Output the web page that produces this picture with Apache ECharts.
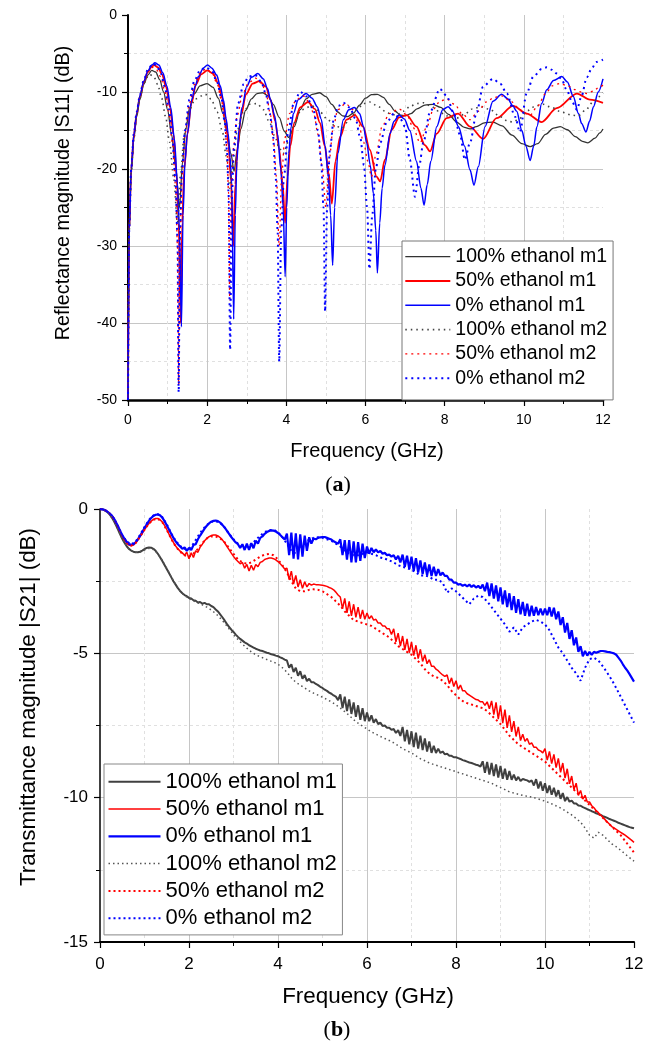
<!DOCTYPE html>
<html><head><meta charset="utf-8">
<script src="https://cdn.jsdelivr.net/npm/echarts@6/dist/echarts.min.js"></script>
<style>html,body{margin:0;padding:0;background:#fff}#c{width:646px;height:1045px}</style>
</head><body><div id="c"></div>
<script>
const FONT = '"Liberation Sans", Arial, Helvetica, sans-serif';
const SERIF = '"Liberation Serif", "DejaVu Serif", serif';
const seriesNames = ['100% ethanol m1','50% ethanol m1','0% ethanol m1','100% ethanol m2','50% ethanol m2','0% ethanol m2'];
const xTicks = {min:0, max:12, interval:2};
const s11Ticks = {min:-50, max:0, interval:10};
const s21Ticks = {min:-15, max:0, interval:5};

// ---- (a) |S11| in dB, [GHz, dB] points ----
const s11_100_m1 = [[0,-50],[0.03,-28],[0.08,-20.5],[0.15,-16],[0.22,-13.2],[0.3,-11],[0.4,-9],[0.5,-7.8],[0.6,-7.2],[0.7,-7.4],[0.8,-8.4],[0.9,-10],[1.0,-12.3],[1.1,-15.5],[1.2,-19.5],[1.3,-25],[1.38,-19],[1.46,-14.8],[1.56,-12],[1.68,-10.2],[1.82,-9.2],[2.0,-8.9],[2.15,-9.4],[2.28,-10.8],[2.4,-12.8],[2.5,-15.2],[2.6,-18],[2.68,-20.3],[2.76,-17.5],[2.85,-14.8],[2.97,-12.4],[3.12,-10.9],[3.26,-10.2],[3.4,-10.1],[3.54,-10.5],[3.67,-11.6],[3.82,-13.3],[3.95,-15.1],[4.06,-15.9],[4.2,-14.5],[4.35,-12.3],[4.5,-10.9],[4.65,-10.3],[4.84,-10.1],[5.0,-10.6],[5.15,-11.6],[5.3,-12.6],[5.42,-13.1],[5.55,-13.2],[5.7,-12.7],[5.85,-11.7],[6.0,-10.8],[6.15,-10.35],[6.3,-10.3],[6.45,-10.7],[6.6,-11.6],[6.75,-12.5],[6.88,-13.0],[7.0,-13.1],[7.15,-12.8],[7.3,-12.2],[7.5,-11.7],[7.7,-11.6],[7.9,-12.0],[8.1,-12.9],[8.3,-13.9],[8.5,-14.6],[8.64,-14.8],[8.8,-14.5],[9.0,-14.0],[9.22,-13.9],[9.45,-14.4],[9.7,-15.6],[9.95,-16.7],[10.16,-17.1],[10.35,-16.7],[10.55,-15.5],[10.75,-14.7],[10.92,-14.5],[11.1,-14.9],[11.3,-15.8],[11.48,-16.4],[11.62,-16.6],[11.8,-16.0],[11.92,-15.3],[12,-14.8]];
const s11_50_m1 = [[0,-50],[0.03,-28],[0.08,-20],[0.15,-15.5],[0.22,-12.8],[0.3,-10.6],[0.4,-8.7],[0.5,-7.4],[0.6,-6.7],[0.66,-6.5],[0.76,-6.8],[0.86,-7.7],[0.96,-9.3],[1.06,-12],[1.15,-15.5],[1.23,-21],[1.28,-27],[1.33,-40],[1.37,-27],[1.42,-20],[1.5,-15.5],[1.6,-11.5],[1.72,-9],[1.85,-7.7],[2.0,-7.2],[2.15,-7.6],[2.28,-8.9],[2.38,-10.8],[2.47,-13.5],[2.54,-17],[2.6,-21.5],[2.66,-30],[2.71,-22],[2.77,-17],[2.86,-13],[2.98,-10.3],[3.15,-8.9],[3.32,-8.6],[3.48,-9.3],[3.6,-11],[3.72,-13.8],[3.82,-17.5],[3.9,-21.5],[3.97,-27],[4.03,-21],[4.1,-17],[4.2,-14],[4.35,-12],[4.55,-11.3],[4.72,-12.2],[4.85,-14],[4.97,-17],[5.07,-20.5],[5.15,-24.5],[5.24,-19],[5.36,-15.8],[5.52,-13.6],[5.73,-13.0],[5.94,-14.5],[6.11,-17.5],[6.28,-21],[6.37,-21.6],[6.49,-18.8],[6.66,-14.9],[6.85,-13.3],[7.04,-13.0],[7.29,-14.5],[7.5,-16.9],[7.63,-17.7],[7.8,-15.4],[8.05,-13.4],[8.34,-12.8],[8.64,-14.5],[8.97,-16.1],[9.31,-13.4],[9.73,-11.8],[10.07,-12.8],[10.45,-13.9],[10.83,-12.1],[11.34,-10.2],[11.67,-11.0],[12,-11.4]];
const s11_0_m1 = [[0,-50],[0.03,-28],[0.08,-20],[0.15,-15.5],[0.22,-12.8],[0.3,-10.5],[0.4,-8.6],[0.5,-7.3],[0.6,-6.5],[0.68,-6.2],[0.78,-6.5],[0.88,-7.5],[0.98,-9.2],[1.08,-12],[1.17,-16],[1.25,-22],[1.3,-28],[1.35,-40.5],[1.39,-26],[1.44,-19],[1.5,-15.4],[1.61,-11],[1.7,-9.2],[1.78,-8.0],[1.9,-6.9],[2.01,-6.5],[2.12,-6.9],[2.24,-7.8],[2.33,-9.2],[2.41,-11],[2.48,-13.5],[2.53,-15.4],[2.58,-18.5],[2.62,-22],[2.67,-39.5],[2.71,-26],[2.75,-19],[2.8,-15],[2.88,-12],[3.0,-9.3],[3.12,-8.1],[3.28,-7.6],[3.42,-8.3],[3.52,-9.5],[3.6,-11],[3.7,-13],[3.78,-15.5],[3.86,-20],[3.92,-25],[3.97,-34],[4.01,-25],[4.06,-18],[4.12,-14.5],[4.18,-12.8],[4.3,-11],[4.5,-10.2],[4.65,-10.8],[4.78,-11.9],[4.88,-13.5],[4.98,-17],[5.06,-21],[5.12,-26],[5.17,-32.5],[5.22,-25],[5.3,-18],[5.44,-13.6],[5.58,-12.3],[5.72,-12.0],[5.85,-12.8],[5.95,-14.5],[6.03,-16.6],[6.12,-19.5],[6.2,-23.2],[6.26,-28],[6.3,-33.5],[6.36,-27],[6.42,-22.5],[6.49,-19.5],[6.62,-15.4],[6.72,-13.8],[6.85,-13.0],[6.98,-13.5],[7.12,-15],[7.29,-19],[7.4,-22.5],[7.48,-24.7],[7.56,-22],[7.65,-19],[7.8,-14.5],[7.95,-12.3],[8.09,-11.9],[8.2,-12.5],[8.35,-14.5],[8.5,-17],[8.64,-20.1],[8.74,-22.1],[8.85,-19.7],[9.02,-14.5],[9.22,-11.2],[9.44,-10.3],[9.6,-10.9],[9.72,-11.8],[9.82,-12.5],[9.95,-15],[10.05,-17],[10.16,-18.9],[10.25,-17],[10.33,-14.5],[10.45,-11.5],[10.58,-9.7],[10.75,-8.5],[10.96,-8.0],[11.1,-8.7],[11.25,-10.6],[11.38,-12.8],[11.46,-14.1],[11.57,-15.2],[11.66,-13.8],[11.76,-11.9],[11.88,-10],[12,-8.3]];
const s11_100_m2 = [[0,-50],[0.03,-28],[0.08,-20.5],[0.15,-16],[0.22,-13],[0.3,-10.8],[0.4,-8.8],[0.54,-7.7],[0.65,-8.0],[0.75,-9.0],[0.85,-10.8],[0.95,-13.2],[1.05,-16.5],[1.15,-21],[1.25,-27],[1.33,-20.5],[1.42,-15.5],[1.55,-12.3],[1.7,-10.9],[1.95,-10.3],[2.1,-10.9],[2.25,-12.6],[2.38,-15],[2.48,-18.3],[2.57,-22.5],[2.66,-18.5],[2.76,-15],[2.9,-12.7],[3.08,-11.6],[3.26,-11.5],[3.42,-12.3],[3.58,-14],[3.72,-15.9],[3.82,-17.3],[3.92,-18],[4.05,-16.5],[4.2,-14],[4.38,-12.3],[4.65,-11.8],[4.85,-12.6],[5.05,-13.6],[5.2,-14.3],[5.4,-14.7],[5.6,-13.6],[5.8,-12.2],[5.95,-11.5],[6.11,-11.3],[6.3,-11.8],[6.5,-12.5],[6.65,-12.9],[6.79,-13.0],[6.95,-12.5],[7.15,-11.8],[7.3,-11.5],[7.46,-11.4],[7.65,-11.8],[7.85,-12.5],[8.05,-13.1],[8.3,-13.4],[8.5,-12.9],[8.7,-12.2],[8.93,-11.9],[9.15,-12.3],[9.4,-13.2],[9.6,-13.8],[9.73,-13.9],[9.9,-13.4],[10.1,-12.4],[10.3,-11.8],[10.49,-11.6],[10.7,-12.0],[10.95,-12.6],[11.2,-13.0],[11.37,-13.1],[11.55,-12.4],[11.75,-11.3],[11.9,-10.6],[12,-10.1]];
const s11_50_m2 = [[0,-50],[0.03,-28],[0.08,-20.5],[0.15,-15.8],[0.22,-13],[0.3,-10.7],[0.4,-8.7],[0.5,-7.4],[0.62,-6.8],[0.72,-7.1],[0.82,-8.0],[0.92,-9.7],[1.02,-12.5],[1.12,-16.5],[1.2,-22],[1.25,-30],[1.28,-48],[1.31,-30],[1.36,-21],[1.44,-15.5],[1.55,-11.5],[1.68,-9],[1.82,-7.6],[1.97,-7.0],[2.12,-7.5],[2.25,-8.9],[2.36,-11],[2.44,-13.8],[2.5,-17.5],[2.54,-23],[2.57,-37],[2.61,-23],[2.67,-17],[2.76,-13],[2.9,-10.2],[3.05,-8.8],[3.22,-8.2],[3.38,-8.9],[3.5,-10.5],[3.6,-13],[3.68,-16.5],[3.75,-21],[3.82,-30],[3.88,-21],[3.96,-16],[4.08,-12.8],[4.25,-11],[4.42,-10.5],[4.58,-11.3],[4.7,-13],[4.8,-15.5],[4.9,-19.5],[5.0,-25],[5.08,-19],[5.18,-14.8],[5.3,-12.3],[5.5,-11.5],[5.68,-12.3],[5.82,-14],[5.95,-16.5],[6.06,-19],[6.15,-21],[6.27,-18],[6.42,-14.5],[6.6,-12.8],[6.85,-12.2],[7.05,-13],[7.2,-14.6],[7.38,-16.6],[7.55,-14.5],[7.72,-12.2],[7.88,-11.2],[8.05,-10.9],[8.25,-11.6],[8.45,-12.9],[8.64,-13.6],[8.85,-12.5],[9.05,-11.3],[9.25,-10.7],[9.44,-10.5],[9.65,-11.1],[9.85,-12.0],[10.0,-12.7],[10.16,-13.0],[10.35,-11.8],[10.55,-10.2],[10.72,-9.2],[10.91,-8.9],[11.1,-9.2],[11.3,-9.7],[11.45,-10.0],[11.59,-10.2],[11.75,-9.9],[11.9,-9.4],[12,-9.1]];
const s11_0_m2 = [[0,-50],[0.03,-28],[0.08,-20],[0.15,-15.3],[0.22,-12.6],[0.3,-10.4],[0.4,-8.4],[0.5,-7.1],[0.63,-6.3],[0.73,-6.6],[0.83,-7.6],[0.93,-9.3],[1.03,-12.2],[1.12,-16],[1.2,-21.5],[1.25,-29],[1.28,-49],[1.31,-29],[1.36,-20.5],[1.44,-15],[1.55,-11],[1.68,-8.5],[1.82,-7.2],[1.97,-6.8],[2.12,-7.3],[2.25,-8.7],[2.36,-10.8],[2.44,-13.8],[2.5,-17.5],[2.54,-23],[2.58,-43.5],[2.62,-24],[2.68,-17],[2.78,-11.5],[2.92,-9],[3.05,-8],[3.21,-7.8],[3.36,-8.6],[3.48,-10.2],[3.58,-12.8],[3.66,-15.5],[3.73,-21],[3.78,-28],[3.82,-45],[3.87,-28],[3.94,-21],[4.05,-15],[4.18,-11.6],[4.35,-10.0],[4.52,-10.6],[4.68,-12.3],[4.8,-15],[4.88,-19],[4.94,-25],[4.98,-38.5],[5.03,-25],[5.1,-17.5],[5.2,-13.5],[5.32,-11.8],[5.44,-11.4],[5.6,-12],[5.75,-13.5],[5.87,-16],[5.96,-19.5],[6.04,-25],[6.1,-33],[6.17,-26],[6.26,-20],[6.37,-16.6],[6.54,-13.9],[6.72,-12.8],[6.88,-13.5],[7.0,-14.5],[7.12,-18.8],[7.25,-23.6],[7.36,-19.5],[7.46,-16.6],[7.63,-12.6],[7.88,-9.6],[8.05,-10.5],[8.22,-12.6],[8.39,-15.6],[8.51,-18.8],[8.64,-16.6],[8.81,-12.6],[8.97,-9.3],[9.22,-8.3],[9.4,-8.9],[9.57,-10.2],[9.78,-13.2],[9.9,-15.2],[10.07,-10.2],[10.24,-8],[10.45,-7],[10.58,-6.8],[10.7,-7.1],[10.83,-7.6],[10.95,-8.3],[11.08,-9.7],[11.22,-11.3],[11.34,-12.3],[11.46,-10.5],[11.59,-8.1],[11.72,-6.9],[11.83,-6.1],[12,-5.8]];

// ---- (b) |S21| in dB, m1 sampled every 0.05 GHz, m2 every 0.1 GHz (from 0 to 12) ----
const s21StepM1 = 0.05, s21StepM2 = 0.1;
const s21_100_m1 = [0,-0.01,-0.04,-0.09,-0.16,-0.26,-0.38,-0.53,-0.7,-0.87,
-1.03,-1.17,-1.29,-1.38,-1.44,-1.48,-1.5,-1.5,-1.48,-1.44,
-1.39,-1.35,-1.33,-1.34,-1.38,-1.45,-1.55,-1.67,-1.8,-1.94,
-2.08,-2.22,-2.36,-2.5,-2.62,-2.74,-2.84,-2.92,-2.98,-3.02,
-3.08,-3.1,-3.16,-3.18,-3.24,-3.22,-3.28,-3.25,-3.3,-3.3,
-3.36,-3.4,-3.48,-3.55,-3.65,-3.75,-3.86,-3.98,-4.08,-4.18,
-4.26,-4.35,-4.43,-4.5,-4.56,-4.62,-4.66,-4.72,-4.76,-4.8,
-4.84,-4.87,-4.9,-4.92,-4.95,-4.98,-5.0,-5.03,-5.05,-5.08,
-5.1,-5.14,-5.17,-5.22,-5.25,-5.5,-5.38,-5.65,-5.5,-5.78,
-5.62,-5.88,-5.75,-5.96,-5.88,-6.0,-6.0,-6.06,-6.1,-6.16,
-6.2,-6.26,-6.3,-6.36,-6.4,-6.46,-6.5,-6.62,-6.42,-6.9,
-6.5,-7.0,-6.6,-7.1,-6.7,-7.2,-6.8,-7.3,-6.9,-7.35,
-7.05,-7.35,-7.15,-7.4,-7.28,-7.45,-7.4,-7.52,-7.5,-7.58,
-7.58,-7.65,-7.62,-7.76,-7.66,-7.86,-7.55,-8.05,-7.65,-8.15,
-7.7,-8.25,-7.75,-8.3,-7.85,-8.35,-7.95,-8.4,-8.05,-8.45,
-8.2,-8.45,-8.3,-8.45,-8.4,-8.5,-8.48,-8.55,-8.55,-8.6,
-8.6,-8.63,-8.66,-8.7,-8.72,-8.75,-8.78,-8.8,-8.83,-8.86,
-8.88,-8.92,-8.74,-9.14,-8.76,-9.2,-8.8,-9.25,-8.85,-9.3,
-8.9,-9.35,-9.0,-9.38,-9.08,-9.38,-9.2,-9.4,-9.28,-9.42,
-9.35,-9.38,-9.4,-9.45,-9.4,-9.58,-9.36,-9.68,-9.44,-9.76,
-9.5,-9.84,-9.58,-9.9,-9.66,-9.96,-9.74,-10.04,-9.84,-10.12,
-9.98,-10.14,-10.1,-10.2,-10.2,-10.27,-10.28,-10.33,-10.36,-10.4,
-10.43,-10.47,-10.5,-10.54,-10.57,-10.6,-10.64,-10.67,-10.7,-10.74,
-10.77,-10.8,-10.83,-10.87,-10.9,-10.93,-10.96,-10.99,-11.02,-11.04,
-11.06];
const s21_50_m1 = [0,-0.01,-0.03,-0.07,-0.13,-0.2,-0.31,-0.45,-0.6,-0.77,
-0.93,-1.07,-1.18,-1.25,-1.27,-1.25,-1.18,-1.08,-0.96,-0.84,
-0.72,-0.6,-0.5,-0.42,-0.36,-0.33,-0.33,-0.37,-0.45,-0.57,
-0.71,-0.87,-1.02,-1.16,-1.28,-1.38,-1.46,-1.52,-1.6,-1.5,
-1.72,-1.52,-1.68,-1.45,-1.5,-1.32,-1.22,-1.1,-1.02,-0.96,
-0.92,-0.9,-0.9,-0.93,-0.99,-1.07,-1.17,-1.29,-1.41,-1.53,
-1.64,-1.74,-1.82,-1.9,-1.85,-2.05,-1.92,-2.15,-1.95,-2.12,
-1.92,-2.0,-1.85,-1.82,-1.75,-1.72,-1.7,-1.7,-1.72,-1.76,
-1.82,-1.9,-1.98,-2.08,-2.05,-2.45,-2.15,-2.6,-2.3,-2.7,
-2.45,-2.75,-2.52,-2.7,-2.58,-2.64,-2.6,-2.62,-2.62,-2.63,
-2.64,-2.66,-2.68,-2.72,-2.75,-2.8,-2.88,-2.98,-3.05,-3.45,
-3.1,-3.6,-3.2,-3.7,-3.3,-3.75,-3.4,-3.8,-3.5,-3.82,
-3.6,-3.8,-3.7,-3.85,-3.82,-3.95,-3.95,-4.05,-4.05,-4.15,
-4.15,-4.35,-4.15,-4.6,-4.3,-4.75,-4.4,-4.88,-4.5,-4.98,
-4.6,-5.08,-4.72,-5.18,-4.86,-5.28,-5.05,-5.36,-5.22,-5.45,
-5.45,-5.55,-5.6,-5.68,-5.75,-5.8,-5.75,-6.05,-5.85,-6.15,
-5.95,-6.25,-6.1,-6.3,-6.3,-6.4,-6.45,-6.5,-6.55,-6.6,
-6.62,-6.68,-6.68,-6.8,-6.68,-6.92,-6.65,-7.12,-6.7,-7.28,
-6.8,-7.42,-6.95,-7.58,-7.15,-7.72,-7.35,-7.88,-7.55,-8.02,
-7.8,-8.05,-7.95,-8.15,-8.1,-8.25,-8.25,-8.35,-8.38,-8.45,
-8.3,-8.7,-8.4,-8.82,-8.5,-8.96,-8.64,-9.12,-8.8,-9.32,
-9.0,-9.52,-9.25,-9.72,-9.5,-9.92,-9.75,-10.05,-9.92,-10.15,
-10.15,-10.28,-10.35,-10.45,-10.52,-10.6,-10.68,-10.76,-10.84,-10.92,
-11.0,-11.05,-11.1,-11.15,-11.2,-11.25,-11.3,-11.36,-11.42,-11.48,
-11.55];
const s21_0_m1 = [0,-0.01,-0.03,-0.07,-0.13,-0.2,-0.3,-0.43,-0.58,-0.75,
-0.9,-1.03,-1.14,-1.21,-1.24,-1.22,-1.15,-1.05,-0.93,-0.8,
-0.66,-0.53,-0.41,-0.31,-0.24,-0.2,-0.19,-0.22,-0.3,-0.42,
-0.56,-0.71,-0.86,-1.0,-1.12,-1.22,-1.3,-1.38,-1.33,-1.45,
-1.35,-1.42,-1.25,-1.22,-1.05,-0.92,-0.8,-0.68,-0.58,-0.5,
-0.44,-0.41,-0.4,-0.42,-0.47,-0.55,-0.64,-0.75,-0.86,-0.97,
-1.07,-1.16,-1.22,-1.35,-1.22,-1.42,-1.2,-1.42,-1.18,-1.36,
-1.1,-1.2,-1.0,-0.95,-0.86,-0.8,-0.76,-0.74,-0.75,-0.78,
-0.83,-0.9,-0.98,-1.06,-0.85,-1.6,-0.82,-1.72,-0.84,-1.75,
-0.88,-1.65,-0.92,-1.45,-0.98,-1.2,-1.02,-1.05,-1.0,-0.98,
-0.97,-0.97,-1.0,-1.03,-1.06,-1.12,-1.16,-1.2,-1.05,-1.6,
-1.08,-1.75,-1.08,-1.85,-1.12,-1.85,-1.15,-1.8,-1.2,-1.7,
-1.3,-1.55,-1.35,-1.5,-1.4,-1.5,-1.45,-1.55,-1.52,-1.6,
-1.58,-1.65,-1.6,-1.75,-1.62,-1.85,-1.58,-2.0,-1.62,-2.08,
-1.65,-2.15,-1.7,-2.2,-1.78,-2.25,-1.85,-2.3,-1.92,-2.32,
-2.0,-2.32,-2.08,-2.3,-2.2,-2.32,-2.32,-2.45,-2.45,-2.55,
-2.55,-2.62,-2.6,-2.66,-2.62,-2.68,-2.62,-2.7,-2.64,-2.72,
-2.66,-2.75,-2.62,-2.85,-2.55,-3.02,-2.58,-3.1,-2.65,-3.2,
-2.72,-3.3,-2.82,-3.4,-2.92,-3.5,-3.02,-3.6,-3.12,-3.65,
-3.22,-3.7,-3.28,-3.72,-3.35,-3.7,-3.4,-3.68,-3.45,-3.68,
-3.45,-3.68,-3.4,-3.72,-3.42,-3.82,-3.55,-4.02,-3.75,-4.28,
-3.95,-4.5,-4.2,-4.72,-4.45,-4.95,-4.75,-5.1,-4.92,-5.08,
-4.95,-5.05,-4.95,-4.98,-4.95,-4.92,-4.92,-4.93,-4.95,-4.96,
-4.98,-5.0,-5.05,-5.15,-5.25,-5.38,-5.5,-5.6,-5.72,-5.85,
-5.98];
const s21_100_m2 = [0,-0.04,-0.16,-0.38,-0.7,-1.03,-1.3,-1.45,-1.5,-1.5,
-1.42,-1.36,-1.4,-1.55,-1.78,-2.05,-2.35,-2.62,-2.85,-3.0,
-3.1,-3.18,-3.25,-3.32,-3.4,-3.5,-3.62,-3.78,-3.95,-4.15,
-4.35,-4.52,-4.68,-4.82,-4.95,-5.05,-5.12,-5.18,-5.25,-5.3,
-5.38,-5.5,-5.65,-5.85,-6.0,-6.1,-6.2,-6.3,-6.38,-6.45,
-6.52,-6.6,-6.68,-6.78,-6.9,-7.02,-7.15,-7.3,-7.42,-7.52,
-7.62,-7.72,-7.8,-7.88,-7.95,-8.02,-8.1,-8.2,-8.3,-8.38,
-8.45,-8.55,-8.65,-8.72,-8.8,-8.85,-8.9,-8.95,-9.0,-9.05,
-9.1,-9.15,-9.2,-9.25,-9.3,-9.35,-9.4,-9.45,-9.5,-9.58,
-9.65,-9.72,-9.8,-9.84,-9.88,-9.92,-9.95,-9.98,-10.02,-10.07,
-10.12,-10.18,-10.25,-10.32,-10.4,-10.5,-10.6,-10.72,-10.85,-11.05,
-11.3,-11.4,-11.2,-11.3,-11.45,-11.6,-11.7,-11.82,-11.95,-12.08,
-12.2];
const s21_50_m2 = [0,-0.03,-0.13,-0.31,-0.6,-0.93,-1.18,-1.27,-1.18,-0.96,
-0.72,-0.5,-0.37,-0.34,-0.46,-0.72,-1.03,-1.3,-1.48,-1.6,
-1.65,-1.55,-1.38,-1.18,-1.02,-0.95,-0.95,-1.02,-1.15,-1.35,
-1.55,-1.75,-1.85,-1.9,-1.85,-1.75,-1.65,-1.58,-1.56,-1.6,
-1.75,-1.95,-2.2,-2.5,-2.75,-2.85,-2.85,-2.8,-2.78,-2.8,
-2.85,-2.95,-3.05,-3.2,-3.35,-3.55,-3.7,-3.85,-3.9,-3.95,
-4.0,-4.05,-4.15,-4.25,-4.35,-4.45,-4.6,-4.75,-4.85,-4.95,
-5.05,-5.2,-5.35,-5.55,-5.7,-5.8,-5.85,-5.95,-6.1,-6.3,
-6.45,-6.6,-6.7,-6.75,-6.8,-6.85,-6.9,-7.0,-7.15,-7.3,
-7.45,-7.65,-7.85,-8.0,-8.15,-8.25,-8.35,-8.45,-8.55,-8.65,
-8.75,-8.9,-9.05,-9.2,-9.35,-9.5,-9.65,-9.8,-9.95,-10.1,
-10.25,-10.4,-10.55,-10.7,-10.85,-11.0,-11.15,-11.3,-11.5,-11.7,
-11.9];
const s21_0_m2 = [0,-0.03,-0.13,-0.3,-0.58,-0.9,-1.13,-1.22,-1.13,-0.9,
-0.62,-0.38,-0.22,-0.18,-0.28,-0.53,-0.84,-1.1,-1.28,-1.38,
-1.38,-1.2,-0.95,-0.72,-0.55,-0.45,-0.42,-0.48,-0.64,-0.86,
-1.05,-1.2,-1.3,-1.3,-1.22,-1.08,-0.92,-0.8,-0.73,-0.72,
-0.8,-0.98,-1.2,-1.45,-1.55,-1.35,-1.2,-1.05,-1.0,-0.98,
-1.0,-1.05,-1.1,-1.2,-1.3,-1.45,-1.55,-1.6,-1.6,-1.55,
-1.5,-1.55,-1.6,-1.68,-1.72,-1.78,-1.85,-1.95,-2.0,-2.05,
-2.1,-2.2,-2.3,-2.3,-2.35,-2.45,-2.45,-2.55,-2.9,-2.75,
-2.85,-3.0,-3.15,-3.3,-3.1,-3.0,-3.05,-3.2,-3.4,-3.6,
-3.8,-4.0,-4.25,-4.1,-4.35,-4.1,-4.0,-3.9,-3.84,-3.9,
-4.0,-4.2,-4.5,-4.8,-5.0,-5.25,-5.5,-5.7,-5.95,-5.5,
-5.2,-5.15,-5.25,-5.45,-5.68,-5.92,-6.2,-6.5,-6.8,-7.1,
-7.4];

function stepPairs(vals, step){ return vals.map((v,i)=>[Math.round(i*step*100)/100, v]); }

const topStyles = [
  {color:'#333333', width:1.3, type:'solid'},
  {color:'#ff0000', width:1.8, type:'solid'},
  {color:'#0000ff', width:1.5, type:'solid'},
  {color:'#444444', width:1.6, type:[1.5,4]},
  {color:'#ff0000', width:1.3, type:[2,4]},
  {color:'#0000ff', width:2.0, type:[2,4]}
];
const botStyles = [
  {color:'#404040', width:2.0, type:'solid'},
  {color:'#ff0000', width:1.5, type:'solid'},
  {color:'#0000ff', width:2.2, type:'solid'},
  {color:'#555555', width:1.5, type:[1.5,3]},
  {color:'#ff0000', width:2.0, type:[2,3]},
  {color:'#0000ff', width:2.0, type:[2,3]}
];
const topData = [s11_100_m1, s11_50_m1, s11_0_m1, s11_100_m2, s11_50_m2, s11_0_m2];
const botData = [stepPairs(s21_100_m1,s21StepM1), stepPairs(s21_50_m1,s21StepM1), stepPairs(s21_0_m1,s21StepM1),
                 stepPairs(s21_100_m2,s21StepM2), stepPairs(s21_50_m2,s21StepM2), stepPairs(s21_0_m2,s21StepM2)];

function xAx(gi, fs, margin, w){
  return {type:'value', gridIndex:gi, min:xTicks.min, max:xTicks.max, interval:xTicks.interval,
    axisLine:{show:true, onZero:false, lineStyle:{color:'#000', width:w}},
    axisTick:{show:true, length:6, lineStyle:{color:'#000', width:1.2}},
    minorTick:{show:true, splitNumber:2, length:4, lineStyle:{color:'#000', width:1}},
    axisLabel:{fontSize:fs, color:'#000', margin:margin, fontFamily:FONT},
    splitLine:{show:true, showMinLine:false, showMaxLine:false, lineStyle:{color:'#c6c6c6', width:1}},
    minorSplitLine:{show:true, lineStyle:{color:'#e0e0e0', type:[3,3], width:1}}};
}
function yAx(gi, t, fs, margin, w){
  return {type:'value', gridIndex:gi, min:t.min, max:t.max, interval:t.interval,
    axisLine:{show:true, onZero:false, lineStyle:{color:'#000', width:w}},
    axisTick:{show:true, length:6, lineStyle:{color:'#000', width:1.2}},
    minorTick:{show:true, splitNumber:2, length:4, lineStyle:{color:'#000', width:1}},
    axisLabel:{fontSize:fs, color:'#000', margin:margin, fontFamily:FONT},
    splitLine:{show:true, showMinLine:false, showMaxLine:false, lineStyle:{color:'#c6c6c6', width:1}},
    minorSplitLine:{show:true, lineStyle:{color:'#e0e0e0', type:[3,3], width:1}}};
}

const series = [];
seriesNames.forEach((n,i)=>{
  series.push({name:n, type:'line', xAxisIndex:0, yAxisIndex:0, data:topData[i], symbol:'none',
    smooth:0.3, smoothMonotone:'x', lineStyle:topStyles[i], itemStyle:{color:topStyles[i].color}, z:2+i});
});
seriesNames.forEach((n,i)=>{
  series.push({name:n, type:'line', xAxisIndex:1, yAxisIndex:1, data:botData[i], symbol:'none',
    smooth:false, lineStyle:botStyles[i], itemStyle:{color:botStyles[i].color}, z:2+i});
});

const chart = echarts.init(document.getElementById('c'), null, {renderer:'canvas'});
chart.setOption({
  animation:false,
  backgroundColor:'#fff',
  grid:[{left:128, top:15, width:475, height:385, outerBoundsMode:'none'},
        {left:100, top:509, width:534, height:433, outerBoundsMode:'none'}],
  xAxis:[xAx(0,14,13,2.6), xAx(1,17,14,2)],
  yAxis:[yAx(0,s11Ticks,14,11,2), yAx(1,s21Ticks,17,12,1.5)],
  legend:[
    {left:402, top:241, orient:'vertical', selectedMode:false, itemWidth:45, itemHeight:14, itemGap:4.3,
     padding:[5.7,6,11.7,2.3], borderColor:'#777', borderWidth:1, backgroundColor:'#fff', z:10,
     itemStyle:{opacity:0}, textStyle:{fontSize:19.5, lineHeight:20, color:'#000', fontFamily:FONT},
     data:seriesNames.map((n,i)=>({name:n, lineStyle:topStyles[i], itemStyle:{opacity:0, borderWidth:0}}))},
    {left:104, top:764, orient:'vertical', selectedMode:false, itemWidth:52, itemHeight:14, itemGap:5.3,
     padding:[6.7,5.7,5.7,3.4], borderColor:'#888', borderWidth:1, backgroundColor:'#fff', z:10,
     itemStyle:{opacity:0}, textStyle:{fontSize:22, lineHeight:22, color:'#000', fontFamily:FONT},
     data:seriesNames.map((n,i)=>({name:n, lineStyle:botStyles[i], itemStyle:{opacity:0, borderWidth:0}}))}
  ],
  graphic:[
    {type:'text', x:367, y:451, style:{text:'Frequency (GHz)', fontSize:20, fontFamily:FONT, fill:'#000', align:'center', verticalAlign:'middle', textAlign:'center', textVerticalAlign:'middle'}},
    {type:'text', x:64, y:193, rotation:Math.PI/2, style:{text:'Reflectance magnitude |S11| (dB)', fontSize:19.8, fontFamily:FONT, fill:'#000', align:'center', verticalAlign:'middle', textAlign:'center', textVerticalAlign:'middle'}},
    {type:'text', x:368, y:997, style:{text:'Frequency (GHz)', fontSize:22.4, fontFamily:FONT, fill:'#000', align:'center', verticalAlign:'middle', textAlign:'center', textVerticalAlign:'middle'}},
    {type:'text', x:29, y:707, rotation:Math.PI/2, style:{text:'Transmittance magnitude |S21| (dB)', fontSize:22.4, fontFamily:FONT, fill:'#000', align:'center', verticalAlign:'middle', textAlign:'center', textVerticalAlign:'middle'}},
    {type:'text', x:338, y:485, style:{text:'({b|a})', fontSize:22, fontFamily:SERIF, fill:'#000', align:'center', verticalAlign:'middle', textAlign:'center', textVerticalAlign:'middle', rich:{b:{fontSize:22, fontFamily:SERIF, fontWeight:'bold', fill:'#000'}}}},
    {type:'text', x:337, y:1030, style:{text:'({b|b})', fontSize:22, fontFamily:SERIF, fill:'#000', align:'center', verticalAlign:'middle', textAlign:'center', textVerticalAlign:'middle', rich:{b:{fontSize:22, fontFamily:SERIF, fontWeight:'bold', fill:'#000'}}}}
  ],
  series:series
});
</script>
</body></html>
